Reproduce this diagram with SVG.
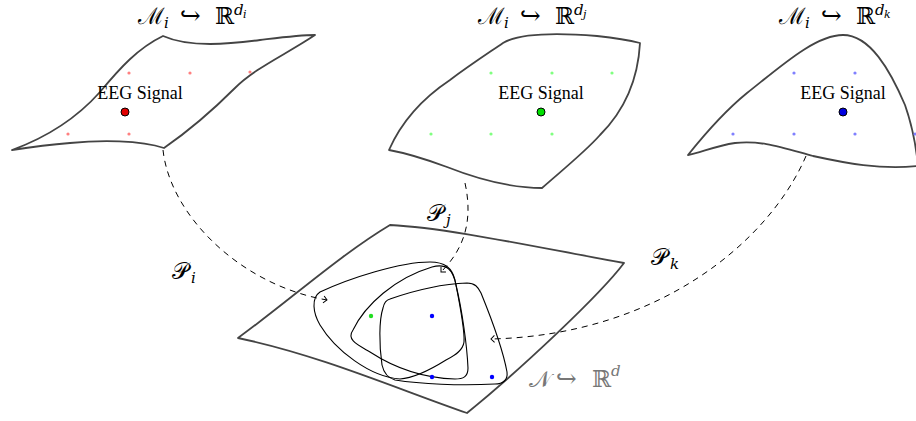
<svg xmlns="http://www.w3.org/2000/svg" width="916" height="421" viewBox="0 0 916 421">
<style>
.man{fill:none;stroke:#444;stroke-width:1.8;stroke-linejoin:round}
.tri{fill:none;stroke:#000;stroke-width:1.1}
.con{fill:none;stroke:#000;stroke-width:1;stroke-dasharray:6 5}
.eeg{font-family:"Liberation Serif","DejaVu Serif",serif;font-size:18px;fill:#000;text-anchor:middle}
.math{font-family:"DejaVu Serif","Liberation Serif",serif;font-size:23px;fill:#000}
.it{font-style:italic}
.sub{font-size:15px;font-style:italic}
.ss{font-size:11px;font-style:italic}
.ar{font-size:25px}
.gray{fill:#777}
</style>
<defs>
<marker id="arr" markerWidth="10" markerHeight="10" refX="0" refY="0" viewBox="-5 -5 10 10" orient="auto" markerUnits="userSpaceOnUse">
<path d="M-3.5,-3.5 Q-1,-1 0,0 Q-1,1 -3.5,3.5" fill="none" stroke="#000" stroke-width="1"/>
</marker>
</defs>

<g id="manifold-i">
<path class="man" d="M163,36 C190,48 230,44 260,40 C285,37 300,35 315,35 C285,55 255,68 235,88 C215,108 190,130 164,148 C140,140 100,140 70,143 C45,145 25,148 12,150 C45,138 75,120 100,92 C120,68 138,48 163,36 Z"/>
<g fill="#ff8080"><circle cx="129" cy="73" r="1.6"/><circle cx="190" cy="73" r="1.6"/><circle cx="250" cy="72" r="1.6"/><circle cx="68" cy="134" r="1.6"/><circle cx="129" cy="134" r="1.6"/></g>
<text class="eeg" x="140" y="99">EEG Signal</text>
<circle cx="125" cy="112" r="4" fill="#e00000" stroke="#000" stroke-width="1"/>
<text class="math" x="138" y="24">ℳ<tspan class="sub" x="164" y="28">i</tspan><tspan class="ar" x="180" y="24">↪</tspan><tspan x="215" y="24">ℝ</tspan><tspan class="sub" x="234" y="15">d</tspan><tspan class="ss" x="243" y="18">i</tspan></text>
</g>

<g id="manifold-j">
<path class="man" d="M503,43 C520,33 560,33 597,36 C615,38 628,40 640,43 C638,80 625,110 600,135 C585,152 560,172 542,188 C510,188 480,180 447,167 C420,157 400,152 389,150 C400,125 420,100 450,80 C470,65 490,52 503,43 Z"/>
<g fill="#80ff80"><circle cx="491" cy="73" r="1.6"/><circle cx="552" cy="73" r="1.6"/><circle cx="612" cy="73" r="1.6"/><circle cx="431" cy="134" r="1.6"/><circle cx="491" cy="134" r="1.6"/><circle cx="552" cy="134" r="1.6"/></g>
<text class="eeg" x="541" y="99">EEG Signal</text>
<circle cx="541" cy="112" r="4" fill="#00e000" stroke="#000" stroke-width="1"/>
<text class="math" x="478" y="24">ℳ<tspan class="sub" x="504" y="28">i</tspan><tspan class="ar" x="520" y="24">↪</tspan><tspan x="555" y="24">ℝ</tspan><tspan class="sub" x="574" y="15">d</tspan><tspan class="ss" x="583" y="18">j</tspan></text>
</g>

<g id="manifold-k">
<path class="man" d="M843,35 C870,35 890,70 905,105 C912,125 916,145 918,166 C880,170 845,163 813,156 C780,147 760,140 735,143 C715,146 700,153 688,155 C700,140 720,115 747,93 C780,67 815,35 843,35 Z"/>
<g fill="#8080ff"><circle cx="794" cy="73" r="1.6"/><circle cx="855" cy="73" r="1.6"/><circle cx="733" cy="134" r="1.6"/><circle cx="794" cy="134" r="1.6"/><circle cx="855" cy="134" r="1.6"/><circle cx="915" cy="134" r="1.6"/></g>
<text class="eeg" x="843" y="99">EEG Signal</text>
<circle cx="843" cy="112" r="4" fill="#0000e0" stroke="#000" stroke-width="1"/>
<text class="math" x="779" y="24">ℳ<tspan class="sub" x="805" y="28">i</tspan><tspan class="ar" x="821" y="24">↪</tspan><tspan x="856" y="24">ℝ</tspan><tspan class="sub" x="875" y="15">d</tspan><tspan class="ss" x="884" y="18">k</tspan></text>
</g>

<g id="manifold-N">
<path class="man" d="M390,225 C450,228 540,248 624,263 C600,295 520,370 467,413 C400,390 320,355 238,338 C290,300 340,255 390,225 Z"/>
<text class="math gray" x="529" y="387">𝒩<tspan class="ar" x="556" y="387">↪</tspan><tspan x="592" y="387">ℝ</tspan><tspan class="sub" x="611" y="376">d</tspan></text>
</g>

<g id="triangles">
<path class="tri" d="M320,292 C350,278 400,262 430,262 C445,262 452,268 455,280 C460,305 465,330 464,342 C463,350 456,355 446,360 C430,370 415,378 400,379 C370,377 335,350 320,325 C313,313 311,298 320,292 Z"/>
<path class="tri" d="M353,330 C365,305 395,278 432,267 C447,263 453,270 456,285 C462,310 467,345 468,368 C468,377 463,379 455,379 C420,378 390,365 370,352 C358,345 346,340 353,330 Z"/>
<path class="tri" d="M390,299 C410,292 440,284 467,283 C475,283 478,287 481,293 C492,320 503,350 507,372 C508,380 503,384 495,384 C460,386 420,384 395,380 C388,378 384,374 382,365 C379,345 379,320 383,308 C384,303 386,300 390,299 Z"/>
<g fill="#0000ff"><circle cx="432" cy="316" r="2.2"/><circle cx="432" cy="377" r="2.2"/><circle cx="492" cy="377" r="2.2"/></g>
<circle cx="371" cy="316" r="2.2" fill="#22dd22"/>
</g>

<g id="connectors">
<path class="con" d="M163,150 C170,215 240,285 327,300" marker-end="url(#arr)"/>
<path class="con" d="M465,183 C472,215 468,245 441,272" marker-end="url(#arr)"/>
<path class="con" d="M806,156 C770,240 660,335 491,339" marker-end="url(#arr)"/>
<text class="math" x="172" y="279">𝒫<tspan class="sub" x="191" y="283">i</tspan></text>
<text class="math" x="427" y="221">𝒫<tspan class="sub" x="446" y="225">j</tspan></text>
<text class="math" x="651" y="265">𝒫<tspan class="sub" x="670" y="269">k</tspan></text>
</g>
</svg>
